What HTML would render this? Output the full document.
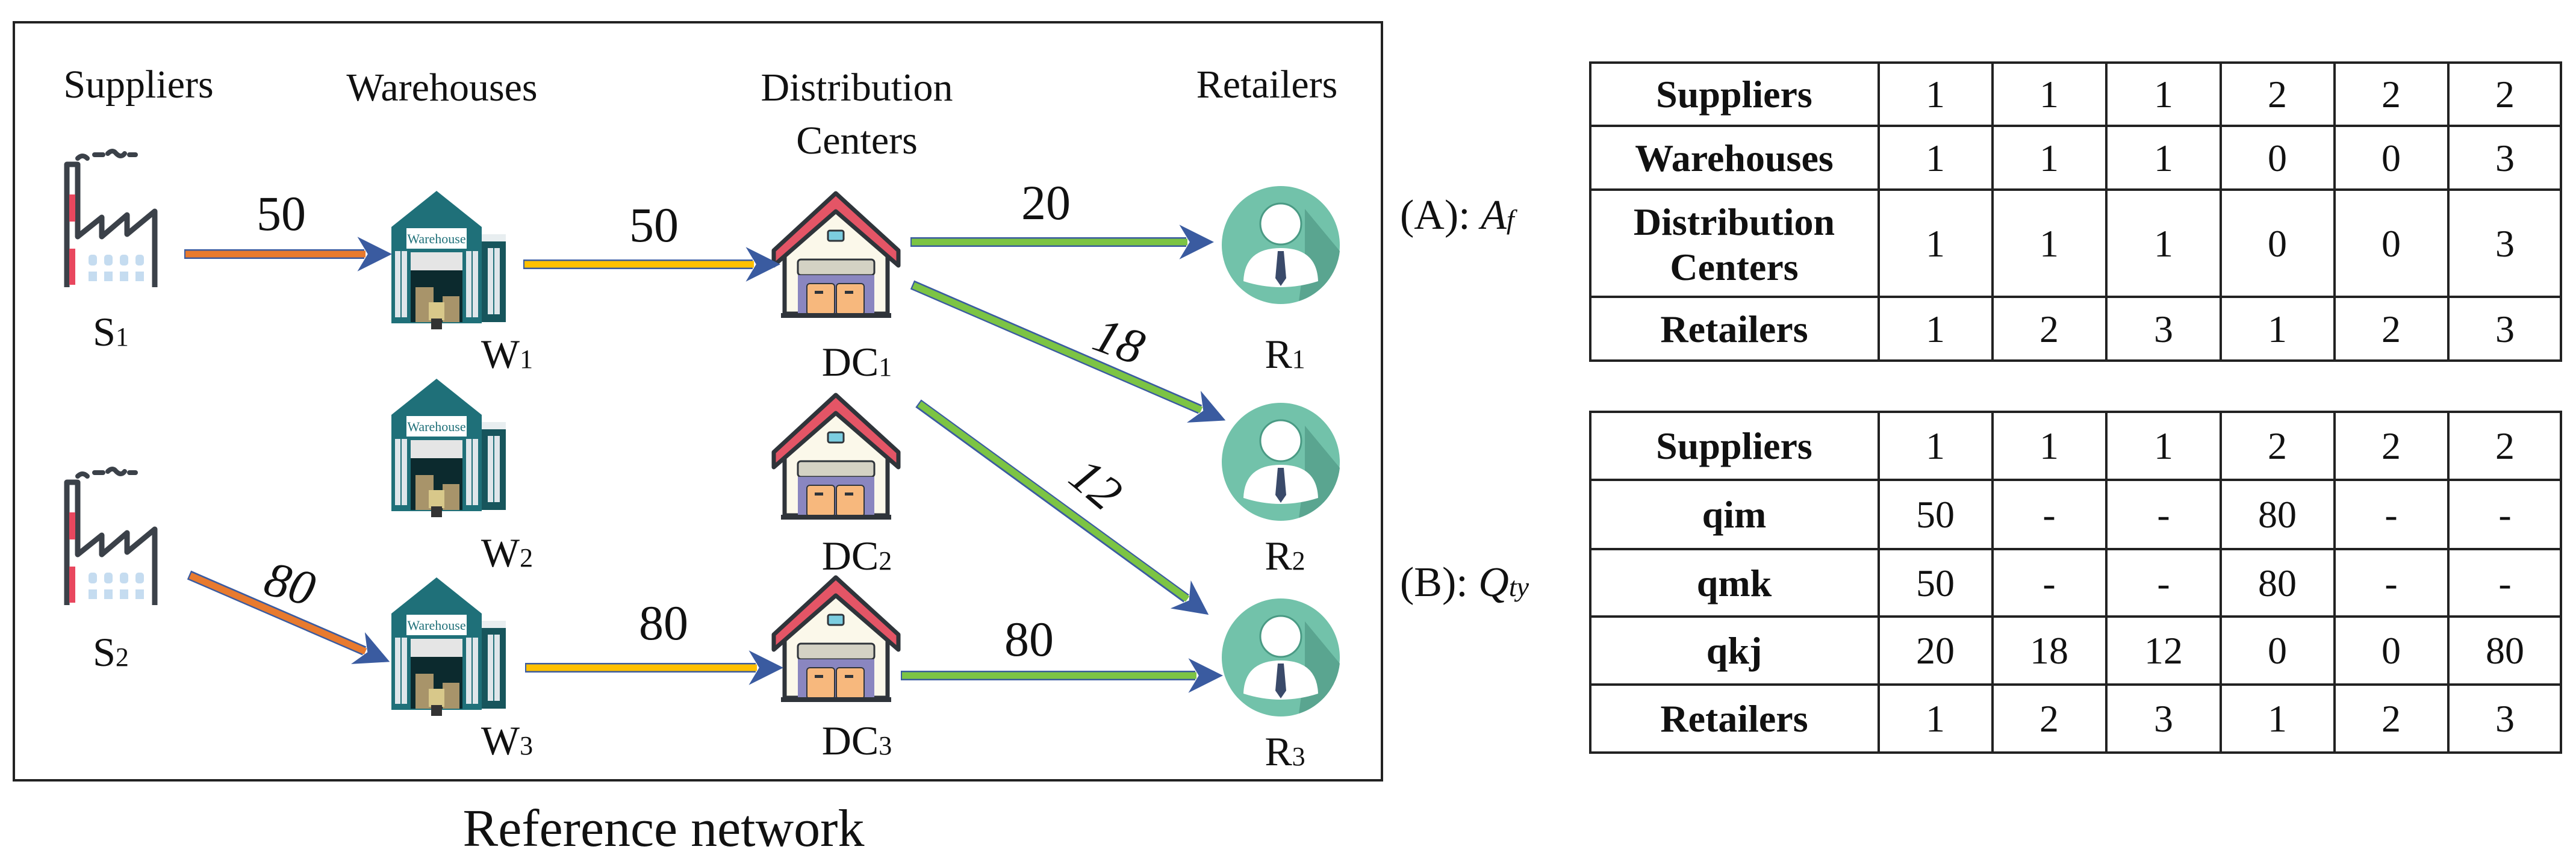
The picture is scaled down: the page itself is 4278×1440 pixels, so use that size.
<!DOCTYPE html>
<html><head><meta charset="utf-8"><style>
html,body{margin:0;padding:0;background:#fff}
svg{display:block}
svg text{font-family:"Liberation Serif","DejaVu Serif",serif !important;fill:#111}
</style></head><body>
<svg width="4278" height="1440" viewBox="0 0 4278 1440" xmlns="http://www.w3.org/2000/svg" font-family="Liberation Serif, DejaVu Serif, serif">
<defs>
<g id="fac">
  <path d="M22 20 q8 -8 16 0 M50 14 h14 M72 12 q8 -8 14 0 q8 8 14 0 M108 14 h10" stroke="#3b4149" stroke-width="8" fill="none" stroke-linecap="round"/>
  <path d="M4 234 V30 H22 V150 L62 118 V150 L104 114 V146 L150 108 V234" fill="#fff" stroke="#3b4149" stroke-width="9" stroke-linejoin="round"/>
  <rect x="8" y="80" width="10" height="45" fill="#e8475e"/>
  <rect x="8" y="170" width="10" height="60" fill="#e8475e"/>
  <g fill="#c5dcf0">
    <rect x="40" y="180" width="14" height="18" rx="5"/><rect x="66" y="180" width="14" height="18" rx="5"/><rect x="92" y="180" width="14" height="18" rx="5"/><rect x="118" y="180" width="14" height="18" rx="5"/>
    <rect x="40" y="208" width="14" height="16"/><rect x="66" y="208" width="14" height="16"/><rect x="92" y="208" width="14" height="16"/><rect x="118" y="208" width="14" height="16"/>
  </g>
</g>
<g id="wh">
  <polygon points="0,60 75,0 150,60 150,220 0,220" fill="#1f7079"/>
  <rect x="150" y="80" width="40" height="138" fill="#17555c"/>
  <rect x="150" y="72" width="40" height="12" fill="#e8eef0"/>
  <rect x="25" y="62" width="100" height="34" fill="#fff"/>
  <text x="75" y="87" font-size="22" text-anchor="middle" style="fill:#1f7079">Warehouse</text>
  <rect x="32" y="102" width="86" height="30" fill="#e5e5e5"/>
  <rect x="32" y="132" width="86" height="86" fill="#0c2a2e"/>
  <rect x="40" y="160" width="30" height="58" fill="#a8946a"/>
  <rect x="85" y="175" width="28" height="43" fill="#a8946a"/>
  <rect x="62" y="185" width="26" height="30" fill="#d8c88a"/>
  <rect x="66" y="212" width="18" height="18" fill="#333"/>
  <g fill="#dfe6ea"><rect x="6" y="100" width="20" height="110"/><rect x="124" y="100" width="20" height="110"/><rect x="160" y="95" width="20" height="110"/></g>
  <g stroke="#1f7079" stroke-width="2"><path d="M16 100V210M134 100V210M170 95V205"/></g>
</g>
<g id="dc">
  <polygon points="18,100 103,28 189,100 189,200 18,200" fill="#fbf8ea" stroke="#2f343a" stroke-width="7"/>
  <polygon points="0,95 103,0 207,95 207,120 103,30 0,120" fill="#e45566" stroke="#2f343a" stroke-width="7" stroke-linejoin="round"/>
  <rect x="90" y="62" width="26" height="17" rx="3" fill="#7ccde0" stroke="#2f343a" stroke-width="3"/>
  <rect x="40" y="110" width="127" height="26" rx="5" fill="#d4d2c4" stroke="#2f343a" stroke-width="3"/>
  <rect x="40" y="136" width="127" height="66" fill="#8a86c0"/>
  <rect x="55" y="150" width="46" height="52" rx="5" fill="#f7b87d" stroke="#2f343a" stroke-width="2"/>
  <rect x="104" y="150" width="46" height="52" rx="5" fill="#f7b87d" stroke="#2f343a" stroke-width="2"/>
  <rect x="68" y="162" width="14" height="5" fill="#2f343a"/><rect x="118" y="162" width="14" height="5" fill="#2f343a"/>
  <line x1="12" y1="203" x2="195" y2="203" stroke="#2f343a" stroke-width="8"/>
</g>
<g id="rt">
  <circle cx="0" cy="0" r="98" fill="#72c2aa"/>
  <path d="M40 -60 L98 10 A98 98 0 0 1 30 93 L40 20Z" fill="#5aa590"/>
  <path d="M-62 60 Q-60 5 0 5 Q60 5 62 60 Q0 80 -62 60Z" fill="#fff"/>
  <circle cx="0" cy="-35" r="34" fill="#fff" stroke="#4a9a84" stroke-width="3"/>
  <polygon points="-5,10 5,10 9,55 0,68 -9,55" fill="#3a4a6a"/>
</g>
<marker id="ah" viewBox="0 0 10 10" refX="2" refY="5" markerWidth="3.6" markerHeight="3.6" orient="auto" markerUnits="strokeWidth"><path d="M0 0 L10 5 L0 10 L3 5Z" fill="#3a5ba0"/></marker>
</defs>

<rect x="23" y="37" width="2272" height="1259" fill="none" stroke="#222" stroke-width="4"/>

<g font-size="66" text-anchor="middle">
<text x="230" y="162">Suppliers</text>
<text x="734" y="167">Warehouses</text>
<text x="1423" y="167">Distribution</text>
<text x="1423" y="255">Centers</text>
<text x="2104" y="162">Retailers</text>
</g>

<use href="#fac" x="107" y="243"/>
<use href="#fac" x="107" y="771"/>
<use href="#wh" x="650" y="317"/>
<use href="#wh" x="650" y="629"/>
<use href="#wh" x="650" y="959"/>
<use href="#dc" x="1285" y="321"/>
<use href="#dc" x="1285" y="656"/>
<use href="#dc" x="1285" y="959"/>
<use href="#rt" x="2127" y="407"/>
<use href="#rt" x="2127" y="767"/>
<use href="#rt" x="2127" y="1092"/>

<g stroke-linecap="butt">
 <g stroke="#3a5ba0" stroke-width="16">
  <line x1="306" y1="422" x2="605" y2="422" marker-end="url(#ah)"/>
  <line x1="314" y1="955" x2="605" y2="1081" marker-end="url(#ah)"/>
  <line x1="869" y1="439" x2="1250" y2="439" marker-end="url(#ah)"/>
  <line x1="872" y1="1109" x2="1255" y2="1109" marker-end="url(#ah)"/>
  <line x1="1512" y1="402" x2="1970" y2="402" marker-end="url(#ah)"/>
  <line x1="1515" y1="473" x2="1993" y2="680" marker-end="url(#ah)"/>
  <line x1="1525" y1="670" x2="1970" y2="994" marker-end="url(#ah)"/>
  <line x1="1496" y1="1122" x2="1985" y2="1122" marker-end="url(#ah)"/>
 </g>
 <g stroke-width="11">
  <line x1="308" y1="422" x2="607" y2="422" stroke="#e87a2e"/>
  <line x1="316" y1="956" x2="607" y2="1082" stroke="#e87a2e"/>
  <line x1="871" y1="439" x2="1252" y2="439" stroke="#ffc000"/>
  <line x1="874" y1="1109" x2="1257" y2="1109" stroke="#ffc000"/>
  <line x1="1514" y1="402" x2="1972" y2="402" stroke="#7cc444"/>
  <line x1="1517" y1="474" x2="1995" y2="681" stroke="#7cc444"/>
  <line x1="1527" y1="671" x2="1972" y2="995" stroke="#7cc444"/>
  <line x1="1498" y1="1122" x2="1987" y2="1122" stroke="#7cc444"/>
 </g>
</g>

<g font-size="82" text-anchor="middle">
<text x="467" y="382">50</text>
<text x="1086" y="401">50</text>
<text x="1737" y="364">20</text>
<text x="1102" y="1062">80</text>
<text x="1709" y="1089">80</text>
<text x="1859" y="594" font-style="italic" transform="rotate(20 1859 565)">18</text>
<text x="1821" y="832" font-style="italic" transform="rotate(40 1821 803)">12</text>
<text x="482" y="997" font-style="italic" transform="rotate(15 482 968)">80</text>
</g>

<g font-size="68" text-anchor="middle">
<text x="184" y="574">S<tspan font-size="44">1</tspan></text>
<text x="184" y="1106">S<tspan font-size="44">2</tspan></text>
<text x="842" y="611">W<tspan font-size="44">1</tspan></text>
<text x="842" y="941">W<tspan font-size="44">2</tspan></text>
<text x="842" y="1253">W<tspan font-size="44">3</tspan></text>
<text x="1423" y="624">DC<tspan font-size="44">1</tspan></text>
<text x="1423" y="946">DC<tspan font-size="44">2</tspan></text>
<text x="1423" y="1253">DC<tspan font-size="44">3</tspan></text>
<text x="2134" y="611">R<tspan font-size="44">1</tspan></text>
<text x="2134" y="946">R<tspan font-size="44">2</tspan></text>
<text x="2134" y="1271">R<tspan font-size="44">3</tspan></text>
</g>

<text x="1102" y="1405" font-size="88" text-anchor="middle">Reference network</text>

<text x="2325" y="380" font-size="70">(A): <tspan font-style="italic">A</tspan><tspan font-style="italic" font-size="46">f</tspan></text>
<text x="2325" y="990" font-size="70">(B): <tspan font-style="italic">Q</tspan><tspan font-style="italic" font-size="46">ty</tspan></text>

<g stroke="#222" stroke-width="4" fill="none">
 <rect x="2641" y="104" width="1612" height="495"/>
 <path d="M2641 209H4253M2641 315H4253M2641 493H4253"/>
 <path d="M3120 104V599M3309 104V599M3498 104V599M3688 104V599M3877 104V599M4066 104V599"/>
 <rect x="2641" y="684" width="1612" height="566"/>
 <path d="M2641 797H4253M2641 912H4253M2641 1024H4253M2641 1137H4253"/>
 <path d="M3120 684V1250M3309 684V1250M3498 684V1250M3688 684V1250M3877 684V1250M4066 684V1250"/>
</g>
<g font-size="64" text-anchor="middle">
 <g font-weight="bold">
  <text x="2880" y="178">Suppliers</text>
  <text x="2880" y="284">Warehouses</text>
  <text x="2880" y="390">Distribution</text>
  <text x="2880" y="465">Centers</text>
  <text x="2880" y="568">Retailers</text>
  <text x="2880" y="762">Suppliers</text>
  <text x="2880" y="876">qim</text>
  <text x="2880" y="990">qmk</text>
  <text x="2880" y="1102">qkj</text>
  <text x="2880" y="1215">Retailers</text>
 </g>
 <g>
  <text x="3214" y="178">1</text><text x="3403" y="178">1</text><text x="3593" y="178">1</text><text x="3782" y="178">2</text><text x="3971" y="178">2</text><text x="4160" y="178">2</text>
  <text x="3214" y="284">1</text><text x="3403" y="284">1</text><text x="3593" y="284">1</text><text x="3782" y="284">0</text><text x="3971" y="284">0</text><text x="4160" y="284">3</text>
  <text x="3214" y="426">1</text><text x="3403" y="426">1</text><text x="3593" y="426">1</text><text x="3782" y="426">0</text><text x="3971" y="426">0</text><text x="4160" y="426">3</text>
  <text x="3214" y="568">1</text><text x="3403" y="568">2</text><text x="3593" y="568">3</text><text x="3782" y="568">1</text><text x="3971" y="568">2</text><text x="4160" y="568">3</text>
  <text x="3214" y="762">1</text><text x="3403" y="762">1</text><text x="3593" y="762">1</text><text x="3782" y="762">2</text><text x="3971" y="762">2</text><text x="4160" y="762">2</text>
  <text x="3214" y="876">50</text><text x="3403" y="876">-</text><text x="3593" y="876">-</text><text x="3782" y="876">80</text><text x="3971" y="876">-</text><text x="4160" y="876">-</text>
  <text x="3214" y="990">50</text><text x="3403" y="990">-</text><text x="3593" y="990">-</text><text x="3782" y="990">80</text><text x="3971" y="990">-</text><text x="4160" y="990">-</text>
  <text x="3214" y="1102">20</text><text x="3403" y="1102">18</text><text x="3593" y="1102">12</text><text x="3782" y="1102">0</text><text x="3971" y="1102">0</text><text x="4160" y="1102">80</text>
  <text x="3214" y="1215">1</text><text x="3403" y="1215">2</text><text x="3593" y="1215">3</text><text x="3782" y="1215">1</text><text x="3971" y="1215">2</text><text x="4160" y="1215">3</text>
 </g>
</g>
</svg>
</body></html>
